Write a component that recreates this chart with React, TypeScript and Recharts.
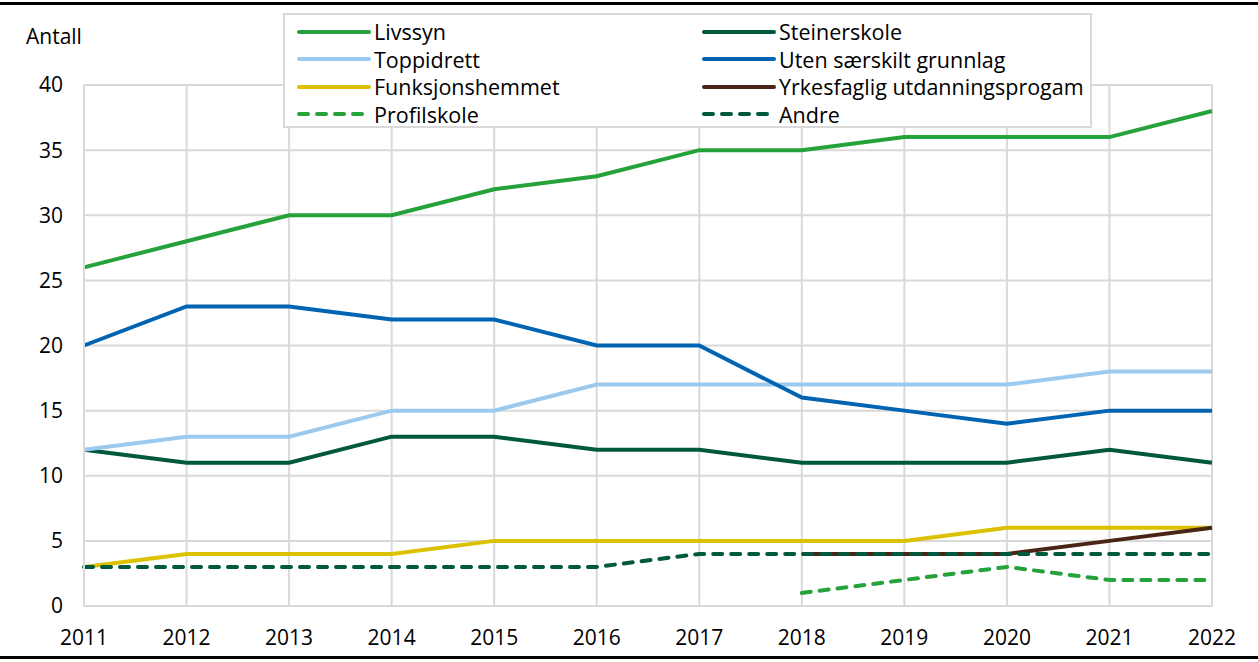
import React from 'react'
import { LineChart, Line, XAxis, YAxis, CartesianGrid } from 'recharts'

const years = [2011, 2012, 2013, 2014, 2015, 2016, 2017, 2018, 2019, 2020, 2021, 2022]
const livssyn = [26, 28, 30, 30, 32, 33, 35, 35, 36, 36, 36, 38]
const steinerskole = [12, 11, 11, 13, 13, 12, 12, 11, 11, 11, 12, 11]
const toppidrett = [12, 13, 13, 15, 15, 17, 17, 17, 17, 17, 18, 18]
const utenGrunnlag = [20, 23, 23, 22, 22, 20, 20, 16, 15, 14, 15, 15]
const funksjonshemmet = [3, 4, 4, 4, 5, 5, 5, 5, 5, 6, 6, 6]
const yrkesfaglig = [null, null, null, null, null, null, null, 4, 4, 4, 5, 6]
const profilskole = [null, null, null, null, null, null, null, 1, 2, 3, 2, 2]
const andre = [3, 3, 3, 3, 3, 3, 4, 4, 4, 4, 4, 4]
const yTicks = [0, 5, 10, 15, 20, 25, 30, 35, 40]

const series = [
  { key: 'livssyn', name: 'Livssyn', values: livssyn, color: '#26a23b', dash: '' },
  { key: 'steiner', name: 'Steinerskole', values: steinerskole, color: '#00583f', dash: '' },
  { key: 'topp', name: 'Toppidrett', values: toppidrett, color: '#9ccaee', dash: '' },
  { key: 'uten', name: 'Uten særskilt grunnlag', values: utenGrunnlag, color: '#0064b2', dash: '' },
  { key: 'funk', name: 'Funksjonshemmet', values: funksjonshemmet, color: '#dbc100', dash: '' },
  { key: 'yrkes', name: 'Yrkesfaglig utdanningsprogam', values: yrkesfaglig, color: '#4a2414', dash: '' },
  { key: 'profil', name: 'Profilskole', values: profilskole, color: '#26a23b', dash: '9 9' },
  { key: 'andre', name: 'Andre', values: andre, color: '#00583f', dash: '9 9' },
]

const data = years.map((y, i) => {
  const row: any = { year: y }
  series.forEach(s => { row[s.key] = s.values[i] })
  return row
})

const font = '"Open Sans", sans-serif'

const LegendBox = () => (
  <div style={{
    position: 'absolute', left: 283, top: 13, zIndex: 2,
    display: 'grid', gridTemplateColumns: '405px 400px',
    background: '#fff', border: '2px solid #d9d9d9', boxSizing: 'border-box',
    width: 809, height: 115, padding: '3px 0 0 12px', fontFamily: font, fontSize: 21.5, color: '#000'
  }}>
    {series.map(s => (
      <div key={s.key} style={{ display: 'flex', alignItems: 'center', height: 27.5 }}>
        <svg width={77} height={10} style={{ flex: 'none' }}>
          <line x1={2} y1={5} x2={72} y2={5} stroke={s.color} strokeWidth={4}
            strokeLinecap="round" strokeDasharray={s.dash || undefined} />
        </svg>
        <span style={{ whiteSpace: 'nowrap', lineHeight: '21px' }}>{s.name}</span>
      </div>
    ))}
  </div>
)

export default function App() {
  return (
    <div style={{ position: 'absolute', left: 0, top: 0, width: 1258, height: 662, background: '#fff', fontFamily: font }}>
      <div style={{ position: 'absolute', left: 0, top: 2, width: 1258, height: 3, background: '#000' }} />
      <div style={{ position: 'absolute', left: 0, top: 656, width: 1258, height: 3, background: '#000' }} />
      <div style={{ position: 'absolute', left: 26, top: 22, fontSize: 21, color: '#000' }}>Antall</div>
      <LineChart width={1258} height={662} data={data}
        margin={{ top: 85, right: 46, bottom: 26, left: 24 }}>
        <CartesianGrid stroke="#d9d9d9" strokeWidth={2} />
        <XAxis dataKey="year" type="number" domain={[2011, 2022]} ticks={years} height={30}
          stroke="#d9d9d9" strokeWidth={2} tickLine={false} tickSize={0} tickMargin={24}
          tick={{ fill: '#000', fontSize: 21, fontFamily: font }} />
        <YAxis domain={[0, 40]} ticks={yTicks} width={60}
          stroke="#d9d9d9" strokeWidth={2} tickLine={false} tickSize={0} tickMargin={21}
          tick={{ fill: '#000', fontSize: 21, fontFamily: font }} />
        {series.map(s => (
          <Line key={s.key} dataKey={s.key} name={s.name} stroke={s.color} strokeWidth={4}
            strokeDasharray={s.dash || undefined} strokeLinecap={s.dash ? 'round' : 'butt'}
            dot={false} activeDot={false} isAnimationActive={false} />
        ))}
      </LineChart>
      <LegendBox />
    </div>
  )
}
